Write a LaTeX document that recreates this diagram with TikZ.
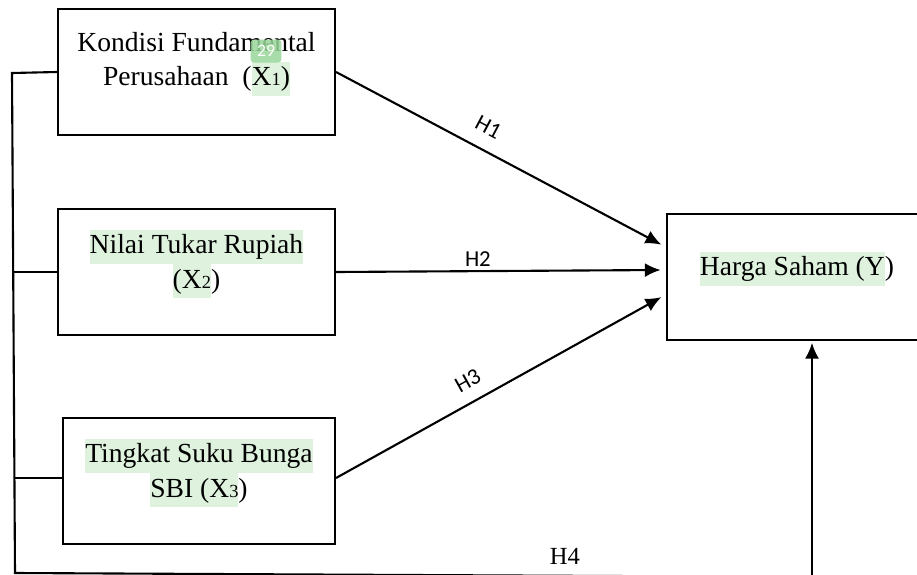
\documentclass[tikz,border=0pt]{standalone}
\usepackage{fontspec}
\setmainfont{Liberation Serif}
\newfontfamily\calfont{Carlito}
\usetikzlibrary{arrows.meta,calc}
\definecolor{HlClr}{rgb}{0.87,0.95,0.87}
\definecolor{BadgeClr}{rgb}{0.60,0.84,0.60}
\newcommand{\hlt}[1]{{\setlength{\fboxsep}{0pt}\colorbox{HlClr}{\strut #1}}}
\newcommand{\ssub}[1]{{\fontsize{10.5}{10.5}\selectfont #1}}

\begin{document}
\begin{tikzpicture}[x=0.02cm,y=-0.02cm,
  box/.style={draw,line width=1.2pt,minimum height=2.52cm,inner sep=0pt},
  txt/.style={align=center,font=\fontsize{15.7}{19.5}\selectfont,yshift=4.5pt},
  ln/.style={line width=1.2pt},
  arr/.style={line width=1.2pt,-{Latex[length=9pt,width=8pt]},shorten >=3pt},
  hyp/.style={font=\calfont\fontsize{13}{13}\selectfont,inner sep=1pt}]
\clip (0,0) rectangle (917,575);

\node[box,minimum width=5.54cm] (X1) at (196.5,72) {};
\node[box,minimum width=5.54cm] (X2) at (196.5,272) {};
\node[box,minimum width=5.44cm] (X3) at (199,481) {};
\node[box,minimum width=5.2cm] (Y) at (797,277) {};

\node[txt] (X1t) at (X1.center) {Kondisi Fundamental\\Perusahaan~ (\hlt{X\ssub{1})}};
\node[txt] (X2t) at (X2.center) {\hlt{Nilai Tukar Rupiah}\\\hlt{(X\ssub{2}})};
\node[txt] (X3t) at (X3.center) {\hlt{Tingkat Suku Bunga}\\\hlt{SBI (X\ssub{3}})};
\node[txt] (Yt) at (Y.center) {\hlt{Harga Saham (Y})};
\node[fill=BadgeClr,text=white,rounded corners=2pt,minimum width=0.62cm,minimum height=0.46cm,
  inner sep=0pt,fill opacity=0.85,text opacity=1,font=\calfont\fontsize{10}{10}\selectfont] (bdg) at (266,51) {29};

% frame on the left
\coordinate (LT) at (12,73);
\coordinate (LB) at (15,573);
\coordinate (RB) at (812,577);
\draw[ln] (X1.west) -- (LT) -- (LB) -- (RB);
\draw[ln] (X2.west) -- (13,272);
\draw[ln] (X3.west |- 0,478) -- (14,478);

% hypotheses
\draw[arr] (X1.east) -- ([yshift=17pt]Y.west) node[hyp,pos=0.43,above=7pt,sloped] (H1) {H1};
\draw[arr] (X2.east) -- ([yshift=4pt]Y.west) node[hyp,pos=0.43,above=1pt] (H2) {H2};
\draw[arr] (X3.east |- 0,478) -- ([yshift=-10pt]Y.west) node[hyp,pos=0.43,above=6pt,sloped] (H3) {H3};
\draw[arr,shorten >=1pt] (RB) -- (RB |- Y.south);
\node[font=\fontsize{14}{14}\selectfont] (H4) at (565,556) {H4};
\end{tikzpicture}
\end{document}
